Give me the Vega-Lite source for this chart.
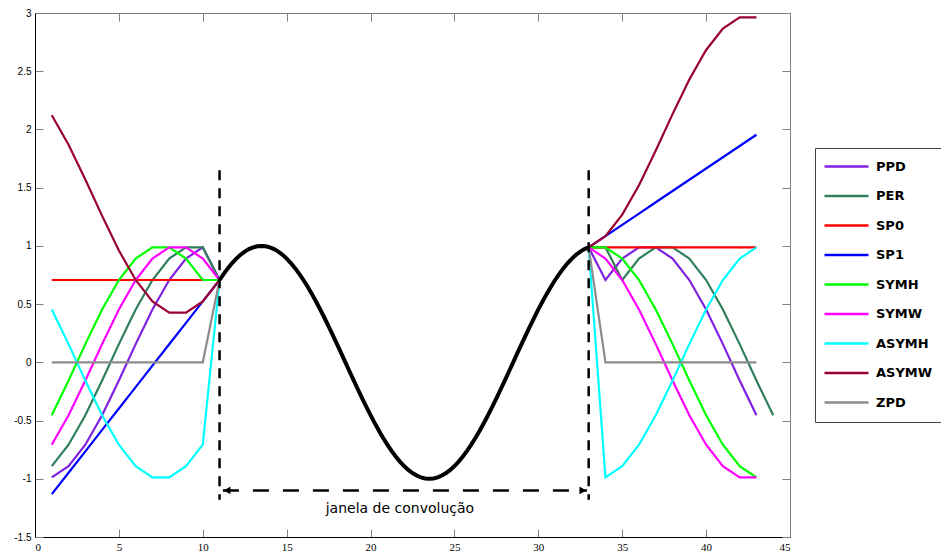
{
  "$schema": "https://vega.github.io/schema/vega-lite/v6.json",
  "width": 755,
  "height": 524,
  "autosize": {"type": "none"},
  "padding": {"left": 35, "top": 13, "right": 151, "bottom": 15},
  "background": "white",
  "config": {
    "view": {"stroke": "#808080", "strokeWidth": 1},
    "axis": {"grid": false, "title": null}
  },
  "datasets": {
    "extensoes": [
      {"p": "L", "x": 1, "PPD": -0.9877, "PER": -0.891, "SP0": 0.7071, "SP1": -1.1319, "SYMH": -0.454, "SYMW": -0.7071, "ASYMH": 0.454, "ASYMW": 2.1213, "ZPD": 0},
      {"p": "L", "x": 2, "PPD": -0.891, "PER": -0.7071, "SP0": 0.7071, "SP1": -0.948, "SYMH": -0.1564, "SYMW": -0.454, "ASYMH": 0.1564, "ASYMW": 1.8682, "ZPD": 0},
      {"p": "L", "x": 3, "PPD": -0.7071, "PER": -0.454, "SP0": 0.7071, "SP1": -0.7641, "SYMH": 0.1564, "SYMW": -0.1564, "ASYMH": -0.1564, "ASYMW": 1.5706, "ZPD": 0},
      {"p": "L", "x": 4, "PPD": -0.454, "PER": -0.1564, "SP0": 0.7071, "SP1": -0.5802, "SYMH": 0.454, "SYMW": 0.1564, "ASYMH": -0.454, "ASYMW": 1.2578, "ZPD": 0},
      {"p": "L", "x": 5, "PPD": -0.1564, "PER": 0.1564, "SP0": 0.7071, "SP1": -0.3963, "SYMH": 0.7071, "SYMW": 0.454, "ASYMH": -0.7071, "ASYMW": 0.9602, "ZPD": 0},
      {"p": "L", "x": 6, "PPD": 0.1564, "PER": 0.454, "SP0": 0.7071, "SP1": -0.2124, "SYMH": 0.891, "SYMW": 0.7071, "ASYMH": -0.891, "ASYMW": 0.7071, "ZPD": 0},
      {"p": "L", "x": 7, "PPD": 0.454, "PER": 0.7071, "SP0": 0.7071, "SP1": -0.0285, "SYMH": 0.9877, "SYMW": 0.891, "ASYMH": -0.9877, "ASYMW": 0.5232, "ZPD": 0},
      {"p": "L", "x": 8, "PPD": 0.7071, "PER": 0.891, "SP0": 0.7071, "SP1": 0.1554, "SYMH": 0.9877, "SYMW": 0.9877, "ASYMH": -0.9877, "ASYMW": 0.4265, "ZPD": 0},
      {"p": "L", "x": 9, "PPD": 0.891, "PER": 0.9877, "SP0": 0.7071, "SP1": 0.3393, "SYMH": 0.891, "SYMW": 0.9877, "ASYMH": -0.891, "ASYMW": 0.4265, "ZPD": 0},
      {"p": "L", "x": 10, "PPD": 0.9877, "PER": 0.9877, "SP0": 0.7071, "SP1": 0.5232, "SYMH": 0.7071, "SYMW": 0.891, "ASYMH": -0.7071, "ASYMW": 0.5232, "ZPD": 0},
      {"p": "L", "x": 11, "PPD": 0.7071, "PER": 0.7071, "SP0": 0.7071, "SP1": 0.7071, "SYMH": 0.7071, "SYMW": 0.7071, "ASYMH": 0.7071, "ASYMW": 0.7071, "ZPD": 0.7071},
      {"p": "R", "x": 33, "PPD": 0.9877, "PER": 0.9877, "SP0": 0.9877, "SP1": 0.9877, "SYMH": 0.9877, "SYMW": 0.9877, "ASYMH": 0.9877, "ASYMW": 0.9877, "ZPD": 0.9877},
      {"p": "R", "x": 34, "PPD": 0.7071, "PER": 0.9877, "SP0": 0.9877, "SP1": 1.0844, "SYMH": 0.9877, "SYMW": 0.891, "ASYMH": -0.9877, "ASYMW": 1.0844, "ZPD": 0},
      {"p": "R", "x": 35, "PPD": 0.891, "PER": 0.7071, "SP0": 0.9877, "SP1": 1.1811, "SYMH": 0.891, "SYMW": 0.7071, "ASYMH": -0.891, "ASYMW": 1.2683, "ZPD": 0},
      {"p": "R", "x": 36, "PPD": 0.9877, "PER": 0.891, "SP0": 0.9877, "SP1": 1.2778, "SYMH": 0.7071, "SYMW": 0.454, "ASYMH": -0.7071, "ASYMW": 1.5214, "ZPD": 0},
      {"p": "R", "x": 37, "PPD": 0.9877, "PER": 0.9877, "SP0": 0.9877, "SP1": 1.3745, "SYMH": 0.454, "SYMW": 0.1564, "ASYMH": -0.454, "ASYMW": 1.819, "ZPD": 0},
      {"p": "R", "x": 38, "PPD": 0.891, "PER": 0.9877, "SP0": 0.9877, "SP1": 1.4712, "SYMH": 0.1564, "SYMW": -0.1564, "ASYMH": -0.1564, "ASYMW": 2.1318, "ZPD": 0},
      {"p": "R", "x": 39, "PPD": 0.7071, "PER": 0.891, "SP0": 0.9877, "SP1": 1.5679, "SYMH": -0.1564, "SYMW": -0.454, "ASYMH": 0.1564, "ASYMW": 2.4294, "ZPD": 0},
      {"p": "R", "x": 40, "PPD": 0.454, "PER": 0.7071, "SP0": 0.9877, "SP1": 1.6646, "SYMH": -0.454, "SYMW": -0.7071, "ASYMH": 0.454, "ASYMW": 2.6825, "ZPD": 0},
      {"p": "R", "x": 41, "PPD": 0.1564, "PER": 0.454, "SP0": 0.9877, "SP1": 1.7613, "SYMH": -0.7071, "SYMW": -0.891, "ASYMH": 0.7071, "ASYMW": 2.8664, "ZPD": 0},
      {"p": "R", "x": 42, "PPD": -0.1564, "PER": 0.1564, "SP0": 0.9877, "SP1": 1.858, "SYMH": -0.891, "SYMW": -0.9877, "ASYMH": 0.891, "ASYMW": 2.9631, "ZPD": 0},
      {"p": "R", "x": 43, "PPD": -0.454, "PER": -0.1564, "SP0": 0.9877, "SP1": 1.9547, "SYMH": -0.9877, "SYMW": -0.9877, "ASYMH": 0.9877, "ASYMW": 2.9631, "ZPD": 0},
      {"p": "R", "x": 44, "PER": -0.454}
    ],
    "sinal": [
      {"x": 11, "y": 0.7071}, {"x": 11.25, "y": 0.7604}, {"x": 11.5, "y": 0.809}, {"x": 11.75, "y": 0.8526},
      {"x": 12, "y": 0.891}, {"x": 12.25, "y": 0.9239}, {"x": 12.5, "y": 0.9511}, {"x": 12.75, "y": 0.9724},
      {"x": 13, "y": 0.9877}, {"x": 13.25, "y": 0.9969}, {"x": 13.5, "y": 1}, {"x": 13.75, "y": 0.9969},
      {"x": 14, "y": 0.9877}, {"x": 14.25, "y": 0.9724}, {"x": 14.5, "y": 0.9511}, {"x": 14.75, "y": 0.9239},
      {"x": 15, "y": 0.891}, {"x": 15.25, "y": 0.8526}, {"x": 15.5, "y": 0.809}, {"x": 15.75, "y": 0.7604},
      {"x": 16, "y": 0.7071}, {"x": 16.25, "y": 0.6494}, {"x": 16.5, "y": 0.5878}, {"x": 16.75, "y": 0.5225},
      {"x": 17, "y": 0.454}, {"x": 17.25, "y": 0.3827}, {"x": 17.5, "y": 0.309}, {"x": 17.75, "y": 0.2334},
      {"x": 18, "y": 0.1564}, {"x": 18.25, "y": 0.0785}, {"x": 18.5, "y": 0}, {"x": 18.75, "y": -0.0785},
      {"x": 19, "y": -0.1564}, {"x": 19.25, "y": -0.2334}, {"x": 19.5, "y": -0.309}, {"x": 19.75, "y": -0.3827},
      {"x": 20, "y": -0.454}, {"x": 20.25, "y": -0.5225}, {"x": 20.5, "y": -0.5878}, {"x": 20.75, "y": -0.6494},
      {"x": 21, "y": -0.7071}, {"x": 21.25, "y": -0.7604}, {"x": 21.5, "y": -0.809}, {"x": 21.75, "y": -0.8526},
      {"x": 22, "y": -0.891}, {"x": 22.25, "y": -0.9239}, {"x": 22.5, "y": -0.9511}, {"x": 22.75, "y": -0.9724},
      {"x": 23, "y": -0.9877}, {"x": 23.25, "y": -0.9969}, {"x": 23.5, "y": -1}, {"x": 23.75, "y": -0.9969},
      {"x": 24, "y": -0.9877}, {"x": 24.25, "y": -0.9724}, {"x": 24.5, "y": -0.9511}, {"x": 24.75, "y": -0.9239},
      {"x": 25, "y": -0.891}, {"x": 25.25, "y": -0.8526}, {"x": 25.5, "y": -0.809}, {"x": 25.75, "y": -0.7604},
      {"x": 26, "y": -0.7071}, {"x": 26.25, "y": -0.6494}, {"x": 26.5, "y": -0.5878}, {"x": 26.75, "y": -0.5225},
      {"x": 27, "y": -0.454}, {"x": 27.25, "y": -0.3827}, {"x": 27.5, "y": -0.309}, {"x": 27.75, "y": -0.2334},
      {"x": 28, "y": -0.1564}, {"x": 28.25, "y": -0.0785}, {"x": 28.5, "y": 0}, {"x": 28.75, "y": 0.0785},
      {"x": 29, "y": 0.1564}, {"x": 29.25, "y": 0.2334}, {"x": 29.5, "y": 0.309}, {"x": 29.75, "y": 0.3827},
      {"x": 30, "y": 0.454}, {"x": 30.25, "y": 0.5225}, {"x": 30.5, "y": 0.5878}, {"x": 30.75, "y": 0.6494},
      {"x": 31, "y": 0.7071}, {"x": 31.25, "y": 0.7604}, {"x": 31.5, "y": 0.809}, {"x": 31.75, "y": 0.8526},
      {"x": 32, "y": 0.891}, {"x": 32.25, "y": 0.9239}, {"x": 32.5, "y": 0.9511}, {"x": 32.75, "y": 0.9724},
      {"x": 33, "y": 0.9877}
    ],
    "limites": [
      {"x": 11, "y": 1.65, "y2": -1.18},
      {"x": 33, "y": 1.65, "y2": -1.18}
    ],
    "janela": [
      {"x": 11.2, "x2": 32.9, "y": -1.1}
    ],
    "pontas": [
      {"x": 11.45, "y": -1.1, "lado": "esquerda"},
      {"x": 32.65, "y": -1.1, "lado": "direita"}
    ],
    "rotulo": [
      {"x": 21.75, "y": -1.26, "texto": "janela de convolução"}
    ]
  },
  "resolve": {"axis": {"x": "independent", "y": "independent"}},
  "layer": [
    {
      "data": {"name": "extensoes"},
      "transform": [
        {"fold": ["PPD", "PER", "SP0", "SP1", "SYMH", "SYMW", "ASYMH", "ASYMW", "ZPD"], "as": ["modo", "valor"]},
        {"filter": "isValid(datum.valor)"}
      ],
      "mark": {"type": "line", "strokeWidth": 2.2, "clip": true},
      "encoding": {
        "x": {
          "field": "x", "type": "quantitative",
          "scale": {"domain": [0, 45], "nice": false, "zero": false},
          "axis": {
            "orient": "bottom", "values": [0, 5, 10, 15, 20, 25, 30, 35, 40, 45],
            "domainColor": "#000000", "domainWidth": 1,
            "tickColor": "#808080", "tickSize": -8, "tickWidth": 1,
            "labelFont": "Liberation Serif", "labelFontSize": 11, "labelColor": "#000000",
            "labelPadding": 12, "format": "~g"
          }
        },
        "y": {
          "field": "valor", "type": "quantitative",
          "scale": {"domain": [-1.5, 3], "nice": false, "zero": false},
          "axis": {
            "orient": "left", "values": [-1.5, -1, -0.5, 0, 0.5, 1, 1.5, 2, 2.5, 3],
            "domainColor": "#000000", "domainWidth": 1,
            "tickColor": "#808080", "tickSize": -8, "tickWidth": 1,
            "labelFont": "Liberation Sans", "labelFontSize": 10, "labelColor": "#000000",
            "labelPadding": 12,
            "labelExpr": "datum.value < 0 ? '-' + format(-datum.value, '~g') : format(datum.value, '~g')"
          }
        },
        "color": {
          "field": "modo", "type": "nominal",
          "scale": {
            "domain": ["PPD", "PER", "SP0", "SP1", "SYMH", "SYMW", "ASYMH", "ASYMW", "ZPD"],
            "range": ["#8020E0", "#2F7F5A", "#FF0000", "#0000FF", "#00FF00", "#FF00FF", "#00FFFF", "#990033", "#8C8C8C"]
          },
          "legend": {
            "orient": "none", "legendX": 780, "legendY": 135,
            "title": null,
            "symbolType": "M-1.8,0H7", "symbolSize": 100, "symbolStrokeWidth": 2.5,
            "labelFont": "DejaVu Sans", "labelFontWeight": "bold", "labelFontSize": 13,
            "labelColor": "#000000", "labelOffset": 36,
            "padding": 12, "rowPadding": 15.5,
            "strokeColor": "#444444", "fillColor": "#FFFFFF", "cornerRadius": 0
          }
        },
        "detail": {"field": "p", "type": "nominal"}
      }
    },
    {
      "data": {"name": "sinal"},
      "mark": {"type": "line", "color": "#000000", "strokeWidth": 4},
      "encoding": {
        "x": {
          "field": "x", "type": "quantitative",
          "axis": {"orient": "top", "values": [0, 5, 10, 15, 20, 25, 30, 35, 40, 45], "labels": false, "domain": false,
                   "tickColor": "#808080", "tickSize": -8, "tickWidth": 1}
        },
        "y": {
          "field": "y", "type": "quantitative",
          "axis": {"orient": "right", "values": [-1.5, -1, -0.5, 0, 0.5, 1, 1.5, 2, 2.5, 3], "labels": false, "domain": false,
                   "tickColor": "#808080", "tickSize": -8, "tickWidth": 1}
        }
      }
    },
    {
      "data": {"name": "limites"},
      "mark": {"type": "rule", "color": "#000000", "strokeWidth": 2.5, "strokeDash": [10, 8]},
      "encoding": {
        "x": {"field": "x", "type": "quantitative", "axis": null},
        "y": {"field": "y", "type": "quantitative", "axis": null},
        "y2": {"field": "y2"}
      }
    },
    {
      "data": {"name": "janela"},
      "mark": {"type": "rule", "color": "#000000", "strokeWidth": 2.5, "strokeDash": [16, 14]},
      "encoding": {
        "x": {"field": "x", "type": "quantitative", "axis": null},
        "x2": {"field": "x2"},
        "y": {"field": "y", "type": "quantitative", "axis": null}
      }
    },
    {
      "data": {"name": "pontas"},
      "mark": {"type": "point", "filled": true, "color": "#000000", "opacity": 1, "size": 60},
      "encoding": {
        "x": {"field": "x", "type": "quantitative", "axis": null},
        "y": {"field": "y", "type": "quantitative", "axis": null},
        "shape": {
          "field": "lado", "type": "nominal",
          "scale": {"domain": ["esquerda", "direita"], "range": ["triangle-left", "triangle-right"]},
          "legend": null
        }
      }
    },
    {
      "data": {"name": "rotulo"},
      "mark": {"type": "text", "font": "DejaVu Sans", "fontSize": 14, "color": "#000000", "align": "center", "baseline": "middle"},
      "encoding": {
        "x": {"field": "x", "type": "quantitative", "axis": null},
        "y": {"field": "y", "type": "quantitative", "axis": null},
        "text": {"field": "texto"}
      }
    }
  ]
}
